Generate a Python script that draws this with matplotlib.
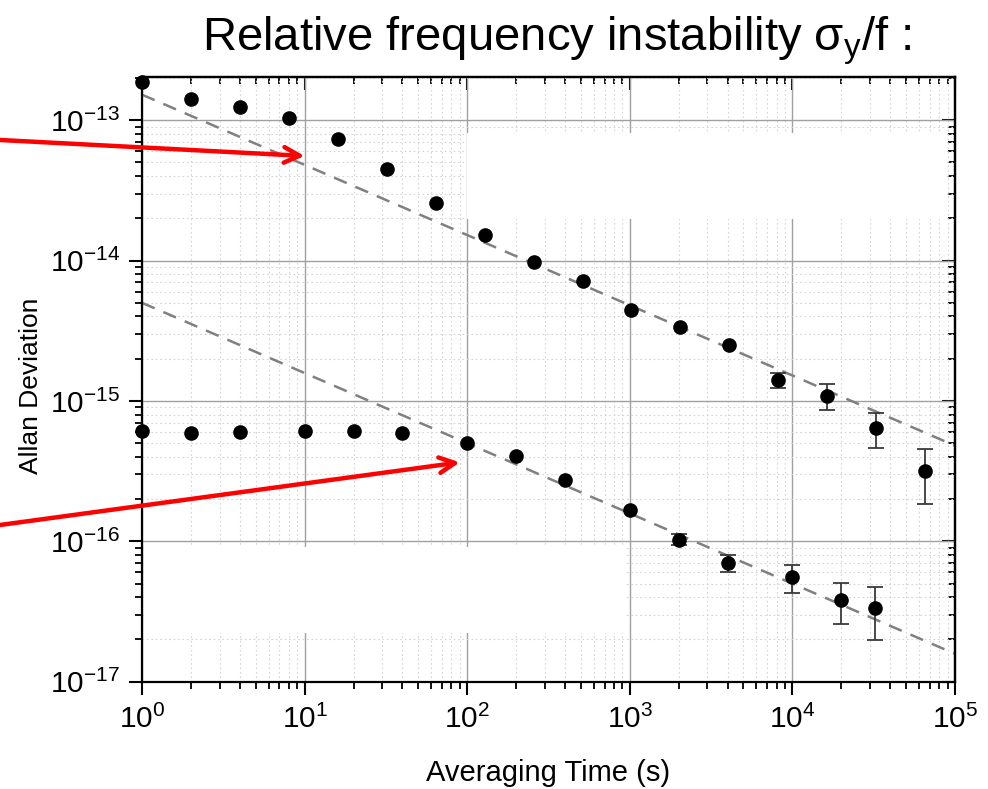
import numpy as np
import matplotlib
matplotlib.use("Agg")
import matplotlib.pyplot as plt
from matplotlib.ticker import LogLocator, NullFormatter, LogFormatterSciNotation, FixedLocator
from matplotlib.patches import Rectangle

plt.rcParams['font.family'] = ['Liberation Sans', 'DejaVu Sans']
plt.rcParams['mathtext.fontset'] = 'custom'
plt.rcParams['mathtext.rm'] = 'Liberation Sans'
plt.rcParams['mathtext.it'] = 'Liberation Sans:italic'
plt.rcParams['mathtext.bf'] = 'Liberation Sans:bold'
plt.rcParams['mathtext.default'] = 'regular'

# ---- data ----
tau_upper = [1, 2, 4, 8, 16, 32, 64, 128, 256, 512, 1024, 2048, 4096,
             8192, 16384, 32768, 65536]
adev_upper = [1.88e-13, 1.41e-13, 1.25e-13, 1.04e-13, 7.3e-14, 4.5e-14,
              2.59e-14, 1.52e-14, 9.8e-15, 7.1e-15, 4.45e-15, 3.39e-15,
              2.49e-15, 1.40e-15, 1.09e-15, 6.42e-16, 3.18e-16]
err_upper_lo = [0, 0, 0, 0, 0, 0, 0, 0, 0, 0, 0, 0, 0,
                1.23e-15, 8.67e-16, 4.63e-16, 1.85e-16]
err_upper_hi = [0, 0, 0, 0, 0, 0, 0, 0, 0, 0, 0, 0, 0,
                1.58e-15, 1.31e-15, 8.26e-16, 4.58e-16]

tau_lower = [1, 2, 4, 10, 20, 40, 100, 200, 400, 1000, 2000, 4000,
             10000, 20000, 32000]
adev_lower = [6.15e-16, 5.89e-16, 5.98e-16, 6.11e-16, 6.10e-16, 5.95e-16,
              5.05e-16, 4.06e-16, 2.73e-16, 1.68e-16, 1.03e-16, 7.03e-17,
              5.53e-17, 3.79e-17, 3.34e-17]
err_lower_lo = [0, 0, 0, 0, 0, 0, 0, 0, 0, 0,
                9.4e-17, 6.04e-17, 4.28e-17, 2.59e-17, 1.98e-17]
err_lower_hi = [0, 0, 0, 0, 0, 0, 0, 0, 0, 0,
                1.13e-16, 8.0e-17, 6.75e-17, 5.04e-17, 4.70e-17]

fit_tau = [1, 1e5]
fit_upper = [1.52e-13, 4.8e-16]
fit_lower = [5.0e-15, 1.58e-17]

x_ticks = [1e0, 1e1, 1e2, 1e3, 1e4, 1e5]
y_ticks = [1e-17, 1e-16, 1e-15, 1e-14, 1e-13]

arrow1_head = (10, 5.56e-14)
arrow2_head = (90, 3.65e-16)

title = r"Relative frequency instability $\sigma_y$/f :"
xlabel = "Averaging Time (s)"
ylabel = "Allan Deviation"

# ---- figure ----
fig = plt.figure(figsize=(9.88, 7.89), dpi=100)
ax = fig.add_axes([0.1437, 0.1360, 0.8229, 0.7664])
ax.set_xscale('log')
ax.set_yscale('log')
ax.set_xlim(1, 1e5)
ax.set_ylim(1e-17, 2.03e-13)

minor_loc = lambda: LogLocator(base=10, subs=np.arange(2, 10), numticks=100)

ax.xaxis.set_major_locator(FixedLocator(x_ticks))
ax.yaxis.set_major_locator(FixedLocator(y_ticks))
for a in (ax.xaxis, ax.yaxis):
    a.set_minor_locator(minor_loc())
    a.set_minor_formatter(NullFormatter())
    a.set_major_formatter(LogFormatterSciNotation())

ax.set_axisbelow(True)
ax.grid(which='major', color='#a0a0a0', lw=1.0, ls='-')
ax.grid(which='minor', color='#d4d4d4', lw=0.8, ls=(0, (1.5, 2.5)))

# white patches covering grid (as in reference)
ax.add_patch(Rectangle((0.400, 0.765), 0.588, 0.142, transform=ax.transAxes,
                       facecolor='white', edgecolor='none', zorder=1))
ax.add_patch(Rectangle((0.003, 0.080), 0.592, 0.143, transform=ax.transAxes,
                       facecolor='white', edgecolor='none', zorder=1))

# fit lines
ax.plot(fit_tau, fit_upper, color='#808080', lw=1.8, dashes=(5.5, 3.8), zorder=2)
ax.plot(fit_tau, fit_lower, color='#808080', lw=1.8, dashes=(5.5, 3.8), zorder=2)

# data with error bars
def draw(tau, val, lo, hi):
    val = np.array(val)
    lo = np.array(lo)
    hi = np.array(hi)
    mask = lo > 0
    yerr = np.vstack([val[mask] - lo[mask], hi[mask] - val[mask]])
    ax.errorbar(np.array(tau)[mask], val[mask], yerr=yerr, fmt='none',
                ecolor='#3a3a3a', elinewidth=1.3, capsize=5.8, capthick=1.3,
                zorder=3)
    ax.plot(tau, val, 'o', color='black', ms=9.5, zorder=4, clip_on=False)

draw(tau_upper, adev_upper, err_upper_lo, err_upper_hi)
draw(tau_lower, adev_lower, err_lower_lo, err_lower_hi)

# ticks: bottom/left outward, top/right inward
ax.tick_params(which='major', direction='out', length=9.5, width=1.5,
               labelsize=21.5, pad=6)
ax.tick_params(which='minor', direction='out', length=5, width=1.3)
ax.tick_params(axis='x', which='major', pad=7)
for s in ax.spines.values():
    s.set_linewidth(1.6)

secx = ax.secondary_xaxis('top')
secx.xaxis.set_major_locator(FixedLocator(x_ticks))
secx.xaxis.set_minor_locator(minor_loc())
secx.xaxis.set_major_formatter(NullFormatter())
secx.xaxis.set_minor_formatter(NullFormatter())
secx.tick_params(which='major', direction='in', length=9.5, width=1.5)
secx.tick_params(which='minor', direction='in', length=5, width=1.3)
secx.spines['top'].set_linewidth(1.6)

secy = ax.secondary_yaxis('right')
secy.yaxis.set_major_locator(FixedLocator(y_ticks))
secy.yaxis.set_minor_locator(minor_loc())
secy.yaxis.set_major_formatter(NullFormatter())
secy.yaxis.set_minor_formatter(NullFormatter())
secy.tick_params(which='major', direction='in', length=9.5, width=1.5)
secy.tick_params(which='minor', direction='in', length=5, width=1.3)
secy.spines['right'].set_linewidth(1.6)

ax.set_xlabel(xlabel, fontsize=21)
ax.xaxis.set_label_coords(0.5, -0.128)
ax.set_ylabel(ylabel, fontsize=19)
ax.yaxis.set_label_coords(-0.122, 0.49)

fig.text(0.564, 0.9366, title, fontsize=34, ha='center', va='baseline')

# red arrows
ax.annotate('', xy=arrow1_head, xycoords='data',
            xytext=(0.0, 0.8226), textcoords='figure fraction',
            arrowprops=dict(arrowstyle='->', color='#ff0000', lw=3.2,
                            mutation_scale=28, shrinkA=0, shrinkB=0),
            annotation_clip=False, zorder=6)
ax.annotate('', xy=arrow2_head, xycoords='data',
            xytext=(0.0, 0.3346), textcoords='figure fraction',
            arrowprops=dict(arrowstyle='->', color='#ff0000', lw=3.2,
                            mutation_scale=28, shrinkA=0, shrinkB=0),
            annotation_clip=False, zorder=6)

fig.savefig('out.png', dpi=100)
